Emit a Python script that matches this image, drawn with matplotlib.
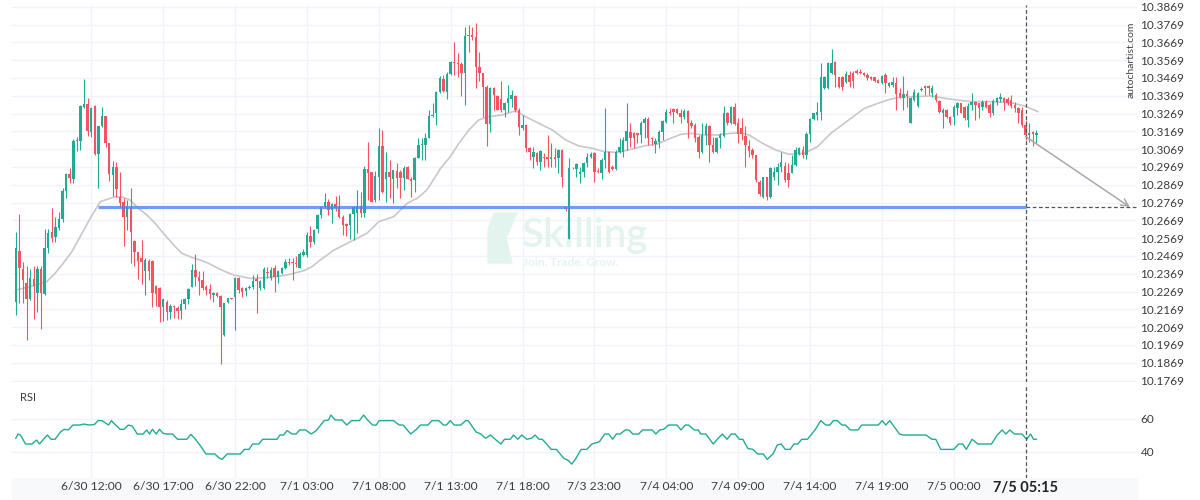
import matplotlib
matplotlib.use("Agg")
import matplotlib.pyplot as plt
from matplotlib.patches import Rectangle, Polygon

plt.rcParams["font.family"] = ["Lato", "DejaVu Sans"]

# 15 minute bars
opens = [
    10.2212, 10.2497, 10.2396, 10.2315, 10.2227, 10.2338, 10.2259, 10.2394, 10.2255, 10.2512,
    10.2602, 10.2577, 10.2628, 10.2677, 10.2834, 10.2928, 10.2901, 10.3117, 10.3117, 10.3308,
    10.3321, 10.3167, 10.3311, 10.3042, 10.3199, 10.3255, 10.3102, 10.2924, 10.2971, 10.2802,
    10.2774, 10.2690, 10.2746, 10.2555, 10.2493, 10.2459, 10.2386, 10.2443, 10.2443, 10.2300,
    10.2291, 10.2180, 10.2212, 10.2156, 10.2190, 10.2179, 10.2162, 10.2197, 10.2227, 10.2297,
    10.2390, 10.2353, 10.2334, 10.2293, 10.2281, 10.2250, 10.2259, 10.2246, 10.2025, 10.2212,
    10.2231, 10.2240, 10.2343, 10.2287, 10.2272, 10.2287, 10.2293, 10.2338, 10.2287, 10.2287,
    10.2381, 10.2347, 10.2399, 10.2353, 10.2375, 10.2399, 10.2437, 10.2437, 10.2431, 10.2403,
    10.2474, 10.2474, 10.2581, 10.2549, 10.2619, 10.2699, 10.2742, 10.2774, 10.2727, 10.2761,
    10.2742, 10.2686, 10.2649, 10.2643, 10.2705, 10.2712, 10.2750, 10.2708, 10.2956, 10.2943,
    10.2783, 10.2914, 10.3089, 10.2899, 10.2943, 10.2899, 10.2946, 10.2943, 10.2905, 10.2971,
    10.2899, 10.2896, 10.3021, 10.3092, 10.3092, 10.3134, 10.3255, 10.3270, 10.3392, 10.3461,
    10.3392, 10.3491, 10.3561, 10.3555, 10.3546, 10.3495, 10.3710, 10.3710, 10.3701, 10.3532,
    10.3495, 10.3420, 10.3210, 10.3411, 10.3368, 10.3349, 10.3289, 10.3330, 10.3349, 10.3368,
    10.3289, 10.3186, 10.3205, 10.3074, 10.3023, 10.3049, 10.2999, 10.3027, 10.3023, 10.3012,
    10.3023, 10.3017, 10.3064, 10.2742, 10.2562, 10.2965, 10.2956, 10.2929, 10.2943, 10.2993,
    10.3023, 10.3046, 10.2946, 10.2937, 10.3008, 10.3055, 10.2967, 10.2958, 10.3055, 10.3055,
    10.3117, 10.3167, 10.3158, 10.3158, 10.3149, 10.3218, 10.3237, 10.3130, 10.3098, 10.3111,
    10.3167, 10.3223, 10.3280, 10.3293, 10.3293, 10.3270, 10.3248, 10.3285, 10.3218, 10.3205,
    10.3139, 10.3055, 10.3149, 10.3199, 10.3092, 10.3055, 10.3130, 10.3143, 10.3270, 10.3214,
    10.3308, 10.3214, 10.3186, 10.3143, 10.3087, 10.3064, 10.3036, 10.2886, 10.2802, 10.2911,
    10.2798, 10.2911, 10.2943, 10.2971, 10.2974, 10.2937, 10.2937, 10.2980, 10.3042, 10.3064,
    10.3036, 10.3154, 10.3237, 10.3261, 10.3280, 10.3411, 10.3411, 10.3495, 10.3561, 10.3473,
    10.3476, 10.3448, 10.3486, 10.3499, 10.3510, 10.3504, 10.3499, 10.3486, 10.3476, 10.3473,
    10.3458, 10.3443, 10.3486, 10.3424, 10.3429, 10.3439, 10.3383, 10.3355, 10.3379, 10.3218,
    10.3345, 10.3311, 10.3401, 10.3424, 10.3424, 10.3383, 10.3373, 10.3342, 10.3274, 10.3289,
    10.3252, 10.3252, 10.3298, 10.3326, 10.3308, 10.3233, 10.3317, 10.3336, 10.3326, 10.3304,
    10.3336, 10.3317, 10.3270, 10.3332, 10.3349, 10.3355, 10.3349, 10.3345, 10.3317, 10.3298,
    10.3289, 10.3205, 10.3149, 10.3167, 10.3149,
]
highs = [
    10.2605, 10.2703, 10.2437, 10.2414, 10.2394, 10.2414, 10.2414, 10.2414, 10.2619, 10.2619,
    10.2737, 10.2690, 10.2718, 10.2849, 10.2933, 10.2961, 10.3124, 10.3139, 10.3317, 10.3461,
    10.3358, 10.3308, 10.3315, 10.3199, 10.3308, 10.3255, 10.3102, 10.3004, 10.2999, 10.2943,
    10.2793, 10.2783, 10.2849, 10.2559, 10.2493, 10.2559, 10.2456, 10.2452, 10.2446, 10.2306,
    10.2293, 10.2235, 10.2222, 10.2199, 10.2194, 10.2188, 10.2225, 10.2235, 10.2287, 10.2422,
    10.2478, 10.2386, 10.2386, 10.2306, 10.2311, 10.2268, 10.2268, 10.2250, 10.2207, 10.2235,
    10.2235, 10.2353, 10.2349, 10.2297, 10.2297, 10.2306, 10.2362, 10.2368, 10.2334, 10.2409,
    10.2409, 10.2409, 10.2418, 10.2390, 10.2409, 10.2450, 10.2459, 10.2456, 10.2471, 10.2489,
    10.2506, 10.2602, 10.2639, 10.2619, 10.2703, 10.2750, 10.2825, 10.2787, 10.2768, 10.2806,
    10.2812, 10.2699, 10.2652, 10.2708, 10.2750, 10.2840, 10.2830, 10.2976, 10.3111, 10.2943,
    10.2948, 10.3190, 10.3177, 10.3055, 10.3008, 10.2952, 10.2993, 10.2952, 10.2974, 10.2974,
    10.2914, 10.3023, 10.3130, 10.3130, 10.3158, 10.3289, 10.3326, 10.3398, 10.3480, 10.3486,
    10.3504, 10.3566, 10.3673, 10.3607, 10.3561, 10.3757, 10.3767, 10.3753, 10.3780, 10.3617,
    10.3495, 10.3429, 10.3420, 10.3420, 10.3373, 10.3454, 10.3336, 10.3429, 10.3401, 10.3373,
    10.3298, 10.3261, 10.3210, 10.3083, 10.3083, 10.3055, 10.3064, 10.3049, 10.3149, 10.3105,
    10.3074, 10.3068, 10.3068, 10.2746, 10.3017, 10.2971, 10.2989, 10.2971, 10.2999, 10.3046,
    10.3055, 10.3055, 10.2961, 10.3017, 10.3300, 10.3059, 10.2980, 10.3064, 10.3130, 10.3139,
    10.3326, 10.3218, 10.3167, 10.3162, 10.3227, 10.3252, 10.3252, 10.3139, 10.3130, 10.3177,
    10.3233, 10.3293, 10.3298, 10.3298, 10.3298, 10.3293, 10.3293, 10.3289, 10.3233, 10.3214,
    10.3149, 10.3214, 10.3214, 10.3205, 10.3139, 10.3139, 10.3162, 10.3311, 10.3280, 10.3311,
    10.3326, 10.3242, 10.3242, 10.3199, 10.3120, 10.3074, 10.3036, 10.2896, 10.2914, 10.2914,
    10.2971, 10.2971, 10.2989, 10.3055, 10.2999, 10.2989, 10.3036, 10.3083, 10.3083, 10.3087,
    10.3167, 10.3242, 10.3274, 10.3336, 10.3551, 10.3480, 10.3561, 10.3630, 10.3564, 10.3476,
    10.3480, 10.3510, 10.3510, 10.3508, 10.3517, 10.3517, 10.3504, 10.3499, 10.3480, 10.3476,
    10.3461, 10.3486, 10.3495, 10.3448, 10.3476, 10.3476, 10.3411, 10.3480, 10.3401, 10.3364,
    10.3405, 10.3392, 10.3416, 10.3429, 10.3429, 10.3429, 10.3383, 10.3345, 10.3298, 10.3293,
    10.3255, 10.3317, 10.3336, 10.3330, 10.3311, 10.3326, 10.3383, 10.3342, 10.3330, 10.3345,
    10.3345, 10.3326, 10.3349, 10.3364, 10.3386, 10.3364, 10.3360, 10.3373, 10.3336, 10.3308,
    10.3304, 10.3233, 10.3214, 10.3171, 10.3177,
]
lows = [
    10.2137, 10.2203, 10.2203, 10.1997, 10.2222, 10.2113, 10.2156, 10.2059, 10.2250, 10.2484,
    10.2549, 10.2549, 10.2615, 10.2662, 10.2796, 10.2881, 10.2881, 10.3059, 10.3064, 10.3302,
    10.3143, 10.3139, 10.3038, 10.2849, 10.3195, 10.3083, 10.2890, 10.2806, 10.2798, 10.2742,
    10.2525, 10.2615, 10.2428, 10.2414, 10.2338, 10.2310, 10.2250, 10.2334, 10.2184, 10.2188,
    10.2100, 10.2105, 10.2109, 10.2113, 10.2119, 10.2113, 10.2115, 10.2169, 10.2197, 10.2293,
    10.2300, 10.2250, 10.2278, 10.2250, 10.2225, 10.2212, 10.2240, 10.1860, 10.2020, 10.2207,
    10.2225, 10.2053, 10.2259, 10.2240, 10.2244, 10.2281, 10.2281, 10.2147, 10.2278, 10.2281,
    10.2347, 10.2334, 10.2268, 10.2315, 10.2368, 10.2394, 10.2418, 10.2334, 10.2409, 10.2399,
    10.2469, 10.2465, 10.2521, 10.2534, 10.2600, 10.2680, 10.2737, 10.2699, 10.2656, 10.2722,
    10.2680, 10.2587, 10.2583, 10.2562, 10.2559, 10.2596, 10.2690, 10.2690, 10.2783, 10.2774,
    10.2774, 10.2783, 10.2825, 10.2774, 10.2793, 10.2768, 10.2849, 10.2793, 10.2840, 10.2899,
    10.2802, 10.2830, 10.3017, 10.3008, 10.3008, 10.3130, 10.3252, 10.3205, 10.3383, 10.3392,
    10.3349, 10.3486, 10.3486, 10.3476, 10.3368, 10.3317, 10.3617, 10.3682, 10.3411, 10.3454,
    10.3252, 10.3087, 10.3167, 10.3289, 10.3289, 10.3280, 10.3252, 10.3280, 10.3304, 10.3280,
    10.3149, 10.3177, 10.3055, 10.3008, 10.2961, 10.2980, 10.2952, 10.2971, 10.2971, 10.2971,
    10.2971, 10.2933, 10.2855, 10.2723, 10.2562, 10.2956, 10.2914, 10.2881, 10.2914, 10.2971,
    10.3017, 10.2886, 10.2933, 10.2899, 10.2961, 10.2933, 10.2952, 10.2952, 10.3046, 10.3027,
    10.3064, 10.3083, 10.3074, 10.3102, 10.3102, 10.3130, 10.3092, 10.3092, 10.3046, 10.3074,
    10.3120, 10.3214, 10.3261, 10.3214, 10.3267, 10.3214, 10.3237, 10.3130, 10.3186, 10.3111,
    10.3017, 10.3046, 10.3092, 10.2999, 10.3046, 10.3046, 10.3074, 10.3139, 10.3205, 10.3210,
    10.3205, 10.3102, 10.3120, 10.2971, 10.3027, 10.3017, 10.2886, 10.2806, 10.2793, 10.2783,
    10.2793, 10.2896, 10.2868, 10.2943, 10.2886, 10.2858, 10.2933, 10.2974, 10.3036, 10.3017,
    10.3012, 10.3111, 10.3233, 10.3233, 10.3233, 10.3405, 10.3405, 10.3491, 10.3416, 10.3411,
    10.3401, 10.3439, 10.3416, 10.3411, 10.3491, 10.3491, 10.3480, 10.3458, 10.3458, 10.3448,
    10.3439, 10.3435, 10.3386, 10.3416, 10.3420, 10.3289, 10.3355, 10.3289, 10.3308, 10.3214,
    10.3342, 10.3308, 10.3398, 10.3373, 10.3373, 10.3364, 10.3336, 10.3270, 10.3186, 10.3242,
    10.3205, 10.3205, 10.3261, 10.3270, 10.3233, 10.3195, 10.3289, 10.3233, 10.3242, 10.3289,
    10.3298, 10.3252, 10.3261, 10.3317, 10.3336, 10.3289, 10.3317, 10.3298, 10.3280, 10.3214,
    10.3195, 10.3120, 10.3111, 10.3087, 10.3102,
]
closes = [
    10.2512, 10.2399, 10.2334, 10.2227, 10.2343, 10.2302, 10.2394, 10.2259, 10.2512, 10.2596,
    10.2568, 10.2630, 10.2675, 10.2834, 10.2928, 10.2905, 10.3117, 10.3121, 10.3311, 10.3321,
    10.3173, 10.3302, 10.3042, 10.3199, 10.3255, 10.3106, 10.2928, 10.2967, 10.2845, 10.2768,
    10.2690, 10.2752, 10.2605, 10.2493, 10.2441, 10.2437, 10.2446, 10.2386, 10.2259, 10.2253,
    10.2180, 10.2225, 10.2156, 10.2190, 10.2184, 10.2162, 10.2197, 10.2227, 10.2283, 10.2390,
    10.2353, 10.2330, 10.2287, 10.2278, 10.2253, 10.2259, 10.2246, 10.2184, 10.2203, 10.2231,
    10.2227, 10.2347, 10.2278, 10.2268, 10.2287, 10.2297, 10.2328, 10.2330, 10.2328, 10.2396,
    10.2371, 10.2390, 10.2353, 10.2385, 10.2403, 10.2437, 10.2428, 10.2428, 10.2422, 10.2480,
    10.2489, 10.2587, 10.2549, 10.2615, 10.2699, 10.2742, 10.2774, 10.2727, 10.2761, 10.2740,
    10.2690, 10.2643, 10.2639, 10.2705, 10.2746, 10.2750, 10.2712, 10.2958, 10.2937, 10.2774,
    10.2918, 10.3089, 10.2827, 10.2943, 10.2914, 10.2952, 10.2905, 10.2905, 10.2965, 10.2899,
    10.2892, 10.3017, 10.3092, 10.3098, 10.3134, 10.3255, 10.3261, 10.3392, 10.3467, 10.3398,
    10.3491, 10.3561, 10.3551, 10.3546, 10.3495, 10.3705, 10.3707, 10.3701, 10.3532, 10.3495,
    10.3420, 10.3210, 10.3411, 10.3373, 10.3289, 10.3289, 10.3326, 10.3355, 10.3373, 10.3289,
    10.3195, 10.3205, 10.3074, 10.3055, 10.3055, 10.2999, 10.3061, 10.3017, 10.3012, 10.3023,
    10.3012, 10.3064, 10.2911, 10.2731, 10.2961, 10.2961, 10.2986, 10.2943, 10.2993, 10.3027,
    10.3042, 10.2943, 10.2939, 10.3008, 10.3055, 10.2943, 10.2958, 10.3055, 10.3083, 10.3120,
    10.3173, 10.3130, 10.3130, 10.3147, 10.3218, 10.3237, 10.3130, 10.3124, 10.3117, 10.3167,
    10.3229, 10.3280, 10.3270, 10.3280, 10.3270, 10.3252, 10.3285, 10.3214, 10.3199, 10.3130,
    10.3055, 10.3149, 10.3199, 10.3092, 10.3055, 10.3130, 10.3149, 10.3270, 10.3214, 10.3308,
    10.3210, 10.3154, 10.3154, 10.3092, 10.3061, 10.3036, 10.2896, 10.2817, 10.2911, 10.2802,
    10.2965, 10.2943, 10.2971, 10.2999, 10.2896, 10.2896, 10.2980, 10.3064, 10.3074, 10.3036,
    10.3154, 10.3237, 10.3270, 10.3280, 10.3476, 10.3473, 10.3551, 10.3551, 10.3486, 10.3416,
    10.3416, 10.3491, 10.3448, 10.3452, 10.3495, 10.3495, 10.3486, 10.3467, 10.3461, 10.3454,
    10.3443, 10.3480, 10.3439, 10.3443, 10.3448, 10.3379, 10.3360, 10.3379, 10.3368, 10.3355,
    10.3392, 10.3383, 10.3407, 10.3411, 10.3411, 10.3411, 10.3345, 10.3280, 10.3289, 10.3252,
    10.3214, 10.3308, 10.3326, 10.3274, 10.3242, 10.3311, 10.3336, 10.3317, 10.3298, 10.3336,
    10.3308, 10.3274, 10.3340, 10.3355, 10.3364, 10.3332, 10.3326, 10.3311, 10.3298, 10.3270,
    10.3205, 10.3149, 10.3162, 10.3154, 10.3162,
]

# grey moving average, read at its turning points
ma_idx = [0, 4.0, 8.6, 10.9, 13.2, 15.6, 17.9, 20.7, 23.5, 27.6,
          30.0, 31.8, 34.1, 36.5, 38.8, 41.1, 43.9, 46.2, 49.0, 51.3,
          53.6, 56.0, 58.3, 60.6, 62.9, 65.2, 69.9, 75.5, 80.1, 82.4,
          84.7, 88.5, 93.1, 97.7, 101.0, 105.2, 108.9, 111.7, 114.4, 118.2,
          120.9, 123.3, 126.1, 128.8, 131.6, 135.3, 139.1, 141.8, 145.6, 149.3,
          153.0, 156.7, 160.4, 163.7, 167.4, 171.1, 174.8, 178.5, 182.2, 185.0,
          187.8, 191.5, 195.2, 198.9, 201.7, 204.0, 207.8, 211.5, 215.2, 219.4,
          223.1, 226.8, 230.5, 236.1, 239.8, 243.5, 247.2, 250.9, 254.7, 258.4,
          262.1, 265.8, 271.4, 276.9, 280.7, 284.4]
ma_val = [10.2278, 10.2297, 10.2325, 10.2371, 10.2428, 10.2493, 10.2577, 10.2680, 10.2774, 10.2802,
          10.2798, 10.2783, 10.2737, 10.2699, 10.2652, 10.2596, 10.2531, 10.2484, 10.2461, 10.2446,
          10.2428, 10.2403, 10.2381, 10.2362, 10.2353, 10.2343, 10.2347, 10.2362, 10.2386, 10.2409,
          10.2446, 10.2502, 10.2549, 10.2596, 10.2662, 10.2690, 10.2765, 10.2793, 10.2840, 10.2961,
          10.3027, 10.3102, 10.3177, 10.3233, 10.3252, 10.3261, 10.3285, 10.3252, 10.3214, 10.3177,
          10.3121, 10.3087, 10.3074, 10.3055, 10.3051, 10.3068, 10.3087, 10.3098, 10.3130, 10.3152,
          10.3158, 10.3149, 10.3149, 10.3158, 10.3162, 10.3149, 10.3102, 10.3064, 10.3040, 10.3046,
          10.3083, 10.3158, 10.3214, 10.3298, 10.3326, 10.3351, 10.3364, 10.3364, 10.3368, 10.3355,
          10.3345, 10.3336, 10.3336, 10.3330, 10.3312, 10.3280]

# RSI panel, read at its vertices
rsi_idx = [0.0, 0.6, 1.3, 2.7, 4.5, 5.8, 6.6, 7.5, 8.8, 9.8, 10.9, 12.5, 13.5, 14.6, 15.9,
           17.8, 18.9, 20.5, 21.9, 22.9, 24.0, 24.8, 25.8, 26.6, 27.6, 29.0, 30.1, 31.3, 32.4,
           33.8, 35.4, 36.4, 37.2, 38.0, 39.1, 40.0, 41.0, 42.1, 43.6, 45.0, 47.6, 48.7, 50.0,
           51.4, 52.9, 55.4, 56.7, 57.4, 58.8, 62.5, 63.6, 64.9, 65.9, 67.6, 68.7, 72.7, 73.5,
           74.5, 75.5, 76.9, 78.0, 79.0, 80.6, 82.2, 83.6, 85.8, 87.0, 87.7, 88.9, 90.8, 92.1,
           93.4, 95.6, 96.8, 97.9, 99.3, 100.3, 101.1, 105.1, 106.7, 107.8, 109.9, 111.5, 112.6,
           114.7, 115.8, 117.7, 119.0, 119.8, 120.9, 122.0, 123.8, 125.2, 125.9, 128.0, 129.4,
           130.7, 132.1, 133.4, 135.0, 136.0, 137.6, 138.5, 139.7, 140.8, 142.2, 143.5, 144.5,
           145.6, 146.5, 147.7, 149.0, 150.4, 151.5, 152.5, 153.6, 154.7, 155.7, 157.3, 158.9,
           160.3, 162.4, 163.9, 165.0, 166.1, 167.1, 168.2, 169.6, 170.6, 171.7, 173.3, 174.4,
           177.1, 178.1, 179.2, 180.3, 181.6, 184.0, 185.1, 186.3, 187.2, 188.8, 189.9, 190.6,
           192.0, 194.1, 195.2, 196.6, 197.9, 199.1, 200.2, 201.3, 202.3, 203.7, 205.1, 206.4,
           208.0, 209.1, 210.7, 211.9, 213.0, 214.1, 215.5, 216.5, 217.6, 218.7, 220.3, 222.4,
           224.0, 225.4, 226.5, 227.5, 228.6, 229.9, 230.9, 232.2, 234.4, 235.4, 240.0, 241.1,
           242.1, 243.2, 244.3, 245.9, 246.9, 253.3, 254.9, 256.0, 257.4, 261.0, 262.4, 263.5,
           264.5, 266.1, 267.7, 271.5, 273.1, 274.5, 275.5, 276.6, 277.9, 280.0, 281.3, 282.4,
           283.2, 284.0]
rsi_val = [48.2, 50.8, 50.2, 44.7, 44.7, 47.1, 44.7, 47.1, 50.2, 47.6, 47.6, 52.2, 53.7, 53.3, 56.3,
           56.3, 56.9, 56.3, 56.7, 59.0, 59.0, 57.8, 56.3, 59.0, 56.7, 53.7, 53.7, 56.3, 55.7,
           50.8, 50.8, 53.3, 50.8, 53.7, 50.8, 53.7, 51.2, 50.8, 50.8, 47.6, 47.6, 50.6, 47.6,
           43.5, 38.6, 38.6, 35.9, 35.3, 38.6, 38.6, 41.4, 41.4, 44.7, 44.7, 47.6, 47.6, 50.2,
           50.2, 52.9, 50.8, 50.8, 53.3, 53.3, 50.8, 52.9, 59.0, 59.4, 62.4, 59.4, 59.4, 56.3,
           59.0, 59.0, 62.4, 59.4, 56.3, 56.3, 59.0, 59.0, 56.3, 56.3, 50.8, 53.7, 56.3,
           56.3, 59.0, 59.0, 56.3, 56.3, 59.0, 56.3, 56.3, 59.0, 59.0, 52.2, 50.8,
           48.2, 50.2, 47.6, 44.7, 47.6, 47.6, 50.2, 47.6, 50.2, 47.6, 48.2, 50.2,
           47.6, 47.6, 44.7, 41.4, 41.4, 38.6, 35.9, 34.9, 32.4, 35.3, 41.4, 41.4,
           44.7, 46.1, 50.8, 50.8, 47.6, 50.8, 50.8, 53.3, 53.3, 50.8, 50.8, 53.3,
           53.3, 50.8, 53.3, 53.7, 56.3, 56.3, 53.3, 56.3, 56.3, 53.3, 53.3, 50.8,
           50.8, 44.7, 47.6, 50.8, 47.6, 50.8, 50.8, 47.6, 47.6, 42.0, 41.4, 38.6,
           38.6, 35.3, 38.6, 44.1, 44.7, 41.4, 41.4, 44.7, 44.7, 47.6, 47.6, 53.3,
           59.0, 56.3, 56.3, 59.0, 59.0, 56.3, 56.3, 53.3, 53.3, 56.3, 56.3, 59.0,
           56.3, 59.0, 55.7, 50.8, 50.2, 50.2, 47.6, 47.6, 41.4, 41.4, 44.7, 44.7,
           41.4, 47.6, 44.7, 44.7, 50.2, 53.3, 50.8, 53.3, 50.8, 50.8, 47.6, 50.8,
           47.6, 47.6]

price_ticks = [10.1769, 10.1869, 10.1969, 10.2069, 10.2169, 10.2269, 10.2369, 10.2469,
               10.2569, 10.2669, 10.2769, 10.2869, 10.2969, 10.3069, 10.3169, 10.3269,
               10.3369, 10.3469, 10.3569, 10.3669, 10.3769, 10.3869]
time_ticks = [21, 41, 61, 81, 101, 121, 141, 161, 181, 201, 221, 241, 261, 281]
time_labels = ["6/30 12:00", "6/30 17:00", "6/30 22:00", "7/1 03:00", "7/1 08:00",
               "7/1 13:00", "7/1 18:00", "7/3 23:00", "7/4 04:00", "7/4 09:00",
               "7/4 14:00", "7/4 19:00", "7/5 00:00", "7/5 05:15"]
rsi_ticks = [40, 60]

level = 10.2744          # blue key level
level_from = 23          # bar where the level starts
signal_bar = 281         # 7/5 05:15
signal_price = 10.3140   # start of the projection arrow
target_bar = 310         # end of the projection arrow

UP = "#22ab94"
DOWN = "#f7525f"
GRID = "#f0f3fa"
TXT = "#3c3c3c"

fig = plt.figure(figsize=(12, 5), dpi=100)
fig.patch.set_facecolor("white")
ax = fig.add_axes([0.01, 0.236, 0.9375, 0.754])
rsi = fig.add_axes([0.01, 0.044, 0.9375, 0.186], sharex=ax)

# candles
xs = list(range(len(closes)))
colors = [UP if c >= o else DOWN for o, c in zip(opens, closes)]
bottoms = [min(o, c) for o, c in zip(opens, closes)]
heights = [max(abs(c - o), 0.0004) for o, c in zip(opens, closes)]
ax.vlines(xs, lows, highs, colors=colors, lw=0.8, zorder=3)
ax.bar(xs, heights, bottom=bottoms, width=0.68, color=colors, lw=0, zorder=4)

ax.plot(ma_idx, ma_val, color="#c8c8c8", lw=1.2, zorder=2.5)

ax.hlines(level, level_from, signal_bar, color="#4a86f0", lw=2.3, alpha=0.8, zorder=6)
ax.hlines(level, signal_bar, target_bar + 3, color="#555555", lw=0.9,
          linestyles=(0, (3, 2)), zorder=5)
ax.annotate("", xy=(target_bar, level), xytext=(signal_bar, signal_price),
            arrowprops=dict(arrowstyle="->", color="#a8a8a8", lw=1.1,
                            shrinkA=0, shrinkB=0, mutation_scale=13), zorder=6)
for a in (ax, rsi):
    a.axvline(signal_bar, color="#555555", lw=0.9, ls=(0, (3, 2)), zorder=5)

# watermark
wm = "#e3f4ef"
logo = [(494, 213), (517, 213), (506, 238), (512, 263), (488, 263), (488, 230)]
ax.add_patch(Polygon([(px / 1200, 1 - py / 500) for px, py in logo], closed=True,
                     transform=fig.transFigure, color=wm, zorder=1))
ax.text(522 / 1200, 1 - 247 / 500, "Skilling", transform=fig.transFigure, fontsize=29,
        color=wm, fontweight="semibold", ha="left", va="baseline", zorder=1)
ax.text(523 / 1200, 1 - 266 / 500, "Join. Trade. Grow.", transform=fig.transFigure,
        fontsize=8.5, color=wm, fontweight="bold", ha="left", va="baseline", zorder=1)

# price axis
ax.set_xlim(-1.06, 312.0)
ax.set_ylim(10.1761, 10.3879)
ax.set_yticks(price_ticks)
ax.set_yticklabels([f"{v:.4f}" for v in price_ticks])
ax.yaxis.tick_right()
ax.tick_params(axis="y", length=0, pad=2.5, labelsize=8.5, labelcolor=TXT)
ax.tick_params(axis="x", length=0, labelbottom=False)
ax.grid(True, color=GRID, lw=1, zorder=0)
ax.set_axisbelow(True)

# RSI panel
rsi.plot(rsi_idx, rsi_val, color=UP, lw=1.0, zorder=3)
rsi.set_ylim(23.9, 80.8)
rsi.set_yticks(rsi_ticks)
rsi.yaxis.tick_right()
rsi.tick_params(axis="y", length=0, pad=2.5, labelsize=8.5, labelcolor=TXT)
rsi.set_xticks(time_ticks)
rsi.set_xticklabels(time_labels)
rsi.tick_params(axis="x", length=0, pad=2.5, labelsize=8.7, labelcolor=TXT)
last = rsi.get_xticklabels()[-1]
last.set_fontweight("bold")
last.set_fontsize(10.5)
last.set_color("#222222")
rsi.grid(True, color=GRID, lw=1, zorder=0)
rsi.set_axisbelow(True)
rsi.text(0.007, 0.87, "RSI", transform=rsi.transAxes, fontsize=8, color=TXT, va="center")

for a in (ax, rsi):
    for s in a.spines.values():
        s.set_visible(False)

fig.patches.append(Rectangle((12 / 1200, 0), 1125 / 1200, 22 / 500, transform=fig.transFigure,
                             color="#f8f9fb", zorder=-5))
fig.text(1131 / 1200, 1 - 60 / 500, "autochartist.com", rotation=90, fontsize=7.5,
         color="#444444", ha="center", va="center")

fig.savefig("out.png", dpi=100, facecolor="white")
